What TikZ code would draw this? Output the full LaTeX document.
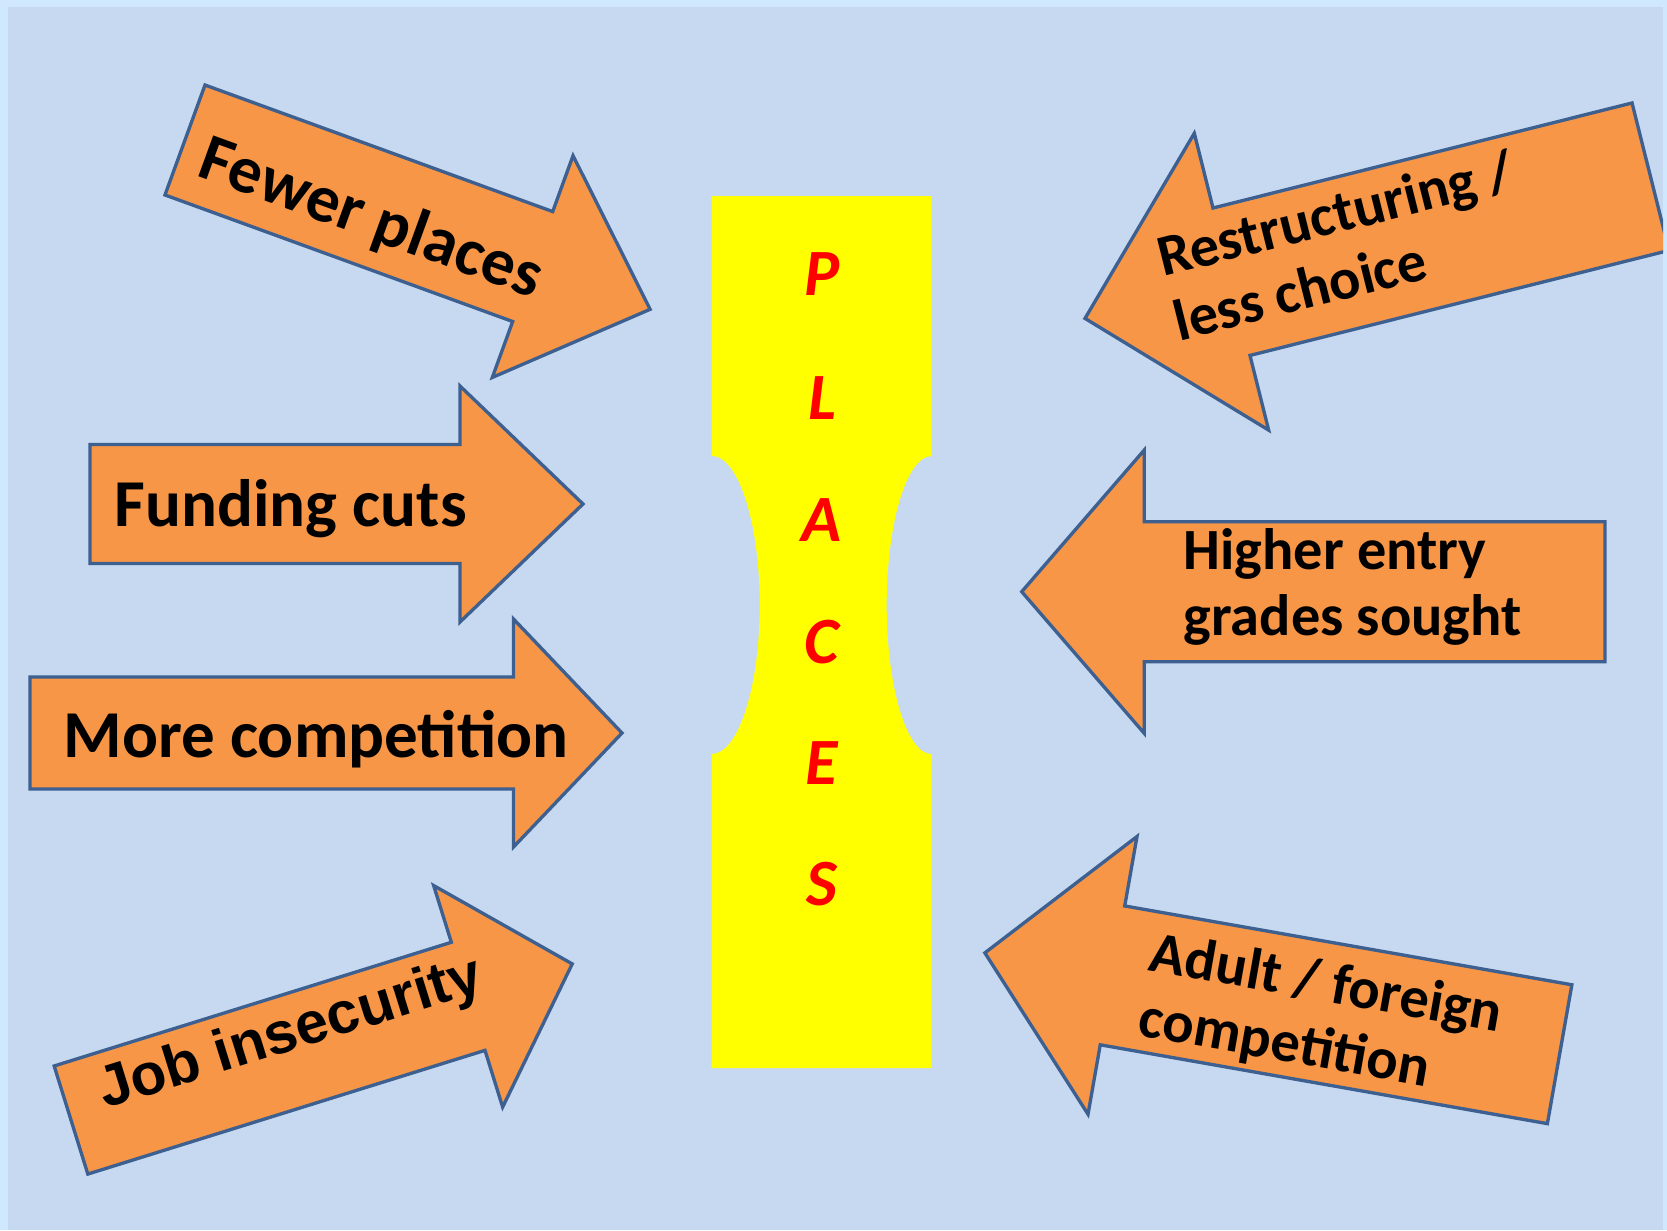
\documentclass[tikz,border=0pt]{standalone}
\usepackage{fontspec}
\setmainfont{Carlito}
\newfontfamily\arialfont{Liberation Sans}
\definecolor{outerbg}{HTML}{CFE8FE}
\definecolor{innerbg}{HTML}{C6D9F1}
\definecolor{arrowfill}{HTML}{F79646}
\definecolor{arrowline}{HTML}{3D6090}
\definecolor{placesred}{HTML}{FF0000}
\definecolor{slotyellow}{HTML}{FFFF00}
\tikzset{
  arrowstyle/.style={fill=arrowfill, draw=arrowline, line width=0.95pt, line join=miter},
  biglbl/.style={font=\bfseries\fontsize{19.06}{22}\selectfont, inner sep=0pt, text=black},
  joblbl/.style={font=\arialfont\bfseries\fontsize{16.7}{20}\selectfont, inner sep=0pt, text=black},
  twolbl/.style={font=\bfseries\fontsize{16.6}{18.8}\selectfont, inner sep=0pt, text=black, align=left},
  letterlbl/.style={font=\bfseries\itshape\fontsize{18.8}{22}\selectfont, inner sep=0pt, text=placesred}
}
% #1 x, #2 y (tail centre), #3 angle, #4 length, #5 head length, #6 shaft half width, #7 head half width
\newcommand\bigarrowshape[7]{%
  \begin{scope}[shift={(#1,#2)},rotate=#3]
    \filldraw[arrowstyle] (0,#6) -- ({#4-#5},#6) -- ({#4-#5},#7) -- (#4,0)
      -- ({#4-#5},-#7) -- ({#4-#5},-#6) -- (0,-#6) -- cycle;
  \end{scope}}
\begin{document}
\begin{tikzpicture}[x=0.01cm,y=-0.01cm]
\useasboundingbox (0,0) rectangle (1667,1230);
\fill[outerbg] (0,0) rectangle (1667,1230);
\fill[innerbg] (8,7) rectangle (1663,1230);

% central slot shape
\fill[slotyellow] (711.7,196) -- (931.7,196) -- (931.7,456)
  arc[start angle=90, end angle=270, x radius=0.45cm, y radius=1.49cm]
  -- (931.7,1068) -- (711.7,1068) -- (711.7,754)
  arc[start angle=-90, end angle=90, x radius=0.48cm, y radius=1.49cm]
  -- cycle;

\begin{scope}
\clip (8,7) rectangle (1663,1230);
\bigarrowshape{185}{140}{-20}{495}{125}{58.5}{118}
\bigarrowshape{90}{504}{0}{493}{123}{59.5}{118}
\bigarrowshape{30}{733}{0}{592}{108.5}{56}{114}
\bigarrowshape{71}{1120}{17.3}{525}{109}{56.6}{116}
\bigarrowshape{1650.5}{176.7}{194.07}{583}{151}{76}{153}
\bigarrowshape{1605}{591.7}{180}{583.3}{122.6}{70}{141.7}
\bigarrowshape{1559.6}{1054.2}{170}{583.6}{129.6}{70.5}{141}
\end{scope}

% labels
\node[biglbl, rotate=-20] (fewer) at (371,220) {Fewer places};
\node[biglbl, anchor=base west] (funding) at (114,526) {Funding cuts};
\node[biglbl, anchor=base west] (morecomp) at (63,757) {More competition};
\node[joblbl, rotate=17.3] (job) at (291,1035) {Job insecurity};
\node[twolbl, rotate=14.07] (restr) at (1343,245) {Restructuring /\\less choice};
\node[twolbl, anchor=west] (higher) at (1183,587) {Higher entry\\grades sought};
\node[twolbl, rotate=-10] (adult) at (1320,1018) {Adult / foreign\\competition};

% PLACES letters
\node[letterlbl] (lp) at (822,274) {P};
\node[letterlbl] (ll) at (822,398) {L};
\node[letterlbl] (la) at (822,520) {A};
\node[letterlbl] (lc) at (822,642) {C};
\node[letterlbl] (le) at (822,763) {E};
\node[letterlbl] (ls) at (822,884) {S};
\end{tikzpicture}
\end{document}
